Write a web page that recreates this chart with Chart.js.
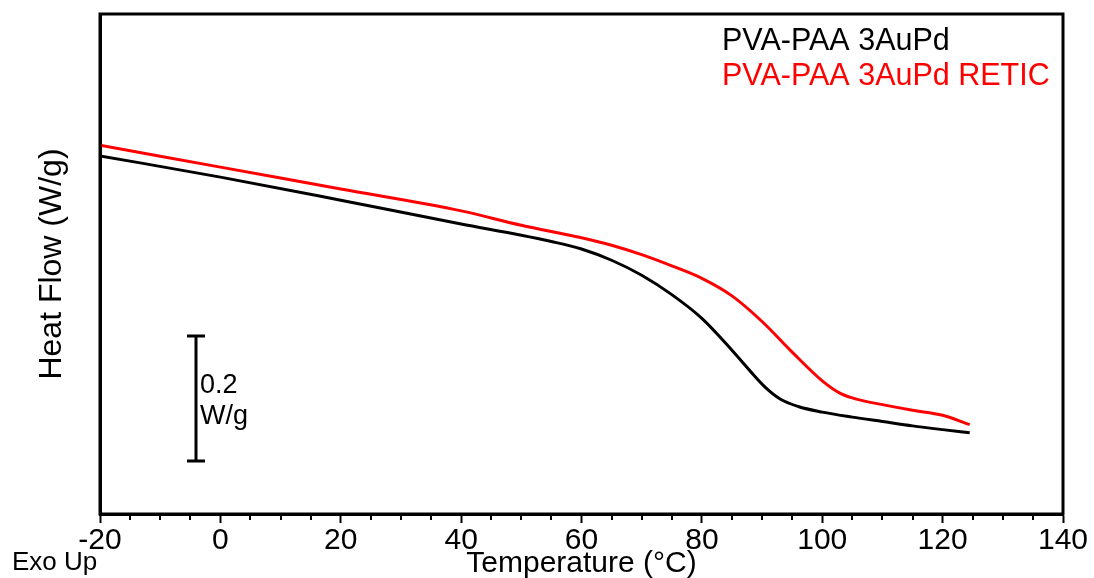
<!DOCTYPE html>
<html>
<head>
<meta charset="utf-8">
<script src="https://cdn.jsdelivr.net/npm/chart.js@4/dist/chart.umd.min.js"></script>
<style>
  body { margin: 0; background: #fff; }
</style>
</head>
<body>
<canvas id="dscChart" width="1094" height="578"></canvas>
<script>
// DSC heat flow traces, temperature in °C, heat flow in W/g (exo up, offset)
var tempPlain = [-20, 0, 20, 40, 50, 55, 60, 65, 70, 75, 80, 85, 88, 90.5, 93, 96, 100, 105, 110, 115, 120, 124.5];
var flowPlain = [0.573, 0.539, 0.502, 0.464, 0.446, 0.436, 0.424, 0.406, 0.382, 0.351, 0.313, 0.262, 0.229, 0.203, 0.184, 0.172, 0.163, 0.155, 0.148, 0.141, 0.135, 0.130];

var tempRetic = [-20, 0, 20, 40, 50, 60, 65, 70, 75, 80, 85, 90, 95, 100, 103, 106, 110, 115, 120, 124.5];
var flowRetic = [0.590, 0.555, 0.520, 0.485, 0.462, 0.442, 0.430, 0.415, 0.397, 0.377, 0.349, 0.308, 0.259, 0.213, 0.193, 0.183, 0.175, 0.166, 0.158, 0.143];

var seriesNames = ['PVA-PAA 3AuPd', 'PVA-PAA 3AuPd RETIC'];
var seriesColors = ['#000000', '#ff0000'];

var xTicks = [-20, 0, 20, 40, 60, 80, 100, 120, 140];
var minorStep = 5;

// scale bar: 0.2 W/g, drawn at T = -4.1
var barTemp = -4.1;
var barLow = 0.085;
var barHigh = 0.285;
var barLabel = ['0.2', 'W/g'];

function toPoints(xs, ys) {
  var pts = [];
  for (var i = 0; i < xs.length; i++) {
    pts.push({ x: xs[i], y: ys[i] });
  }
  return pts;
}

var fontFamily = '"Liberation Sans", Arial, sans-serif';

var decorations = {
  id: 'decorations',
  afterDraw: function (chart) {
    var ctx = chart.ctx;
    var area = chart.chartArea;
    var xs = chart.scales.x;
    var ys = chart.scales.y;
    ctx.save();

    // frame round the plot
    ctx.strokeStyle = '#000';
    ctx.lineWidth = 3;
    ctx.strokeRect(area.left, area.top, area.right - area.left, area.bottom - area.top);

    // minor ticks on the temperature axis
    ctx.lineWidth = 2;
    ctx.beginPath();
    for (var t = xTicks[0]; t <= xTicks[xTicks.length - 1]; t += minorStep) {
      if (t % 20 === 0) continue;
      var px = Math.round(xs.getPixelForValue(t));
      ctx.moveTo(px, area.bottom);
      ctx.lineTo(px, area.bottom + 6);
    }
    ctx.stroke();

    // scale bar
    var bx = Math.round(xs.getPixelForValue(barTemp));
    var y0 = ys.getPixelForValue(barLow);
    var y1 = ys.getPixelForValue(barHigh);
    ctx.lineWidth = 3;
    ctx.beginPath();
    ctx.moveTo(bx, y0);
    ctx.lineTo(bx, y1);
    ctx.moveTo(bx - 9, y0);
    ctx.lineTo(bx + 9, y0);
    ctx.moveTo(bx - 9, y1);
    ctx.lineTo(bx + 9, y1);
    ctx.stroke();

    ctx.fillStyle = '#000';
    ctx.font = '27px ' + fontFamily;
    ctx.textBaseline = 'alphabetic';
    ctx.textAlign = 'left';
    ctx.fillText(barLabel[0], bx + 4, 393);
    ctx.fillText(barLabel[1], bx + 4, 424);

    // legend text
    ctx.font = '30.5px ' + fontFamily;
    chart.data.datasets.forEach(function (ds, i) {
      ctx.fillStyle = ds.borderColor;
      ctx.fillText(ds.label, 722, 50 + i * 35);
    });

    ctx.fillStyle = '#000';
    ctx.font = '26px ' + fontFamily;
    ctx.fillText('Exo Up', 12, 570);

    ctx.restore();
  }
};

var ctx = document.getElementById('dscChart').getContext('2d');
var chart = new Chart(ctx, {
  type: 'line',
  data: {
    datasets: [{
      label: seriesNames[0],
      data: toPoints(tempPlain, flowPlain),
      borderColor: seriesColors[0],
      borderWidth: 3,
      pointRadius: 0,
      cubicInterpolationMode: 'monotone',
      fill: false
    }, {
      label: seriesNames[1],
      data: toPoints(tempRetic, flowRetic),
      borderColor: seriesColors[1],
      borderWidth: 3,
      pointRadius: 0,
      cubicInterpolationMode: 'monotone',
      fill: false
    }]
  },
  options: {
    responsive: false,
    animation: false,
    layout: { padding: { top: 14, right: 31, left: 0, bottom: 0 } },
    plugins: {
      legend: { display: false },
      tooltip: { enabled: false }
    },
    scales: {
      x: {
        type: 'linear',
        min: -20,
        max: 140,
        afterFit: function (scale) { scale.height = 64; },
        afterBuildTicks: function (scale) {
          scale.ticks = xTicks.map(function (v) { return { value: v }; });
        },
        border: { display: true, color: '#000', width: 3 },
        grid: {
          display: true,
          drawOnChartArea: false,
          drawTicks: true,
          tickLength: 9,
          tickWidth: 2,
          tickColor: '#000'
        },
        ticks: {
          color: '#000',
          padding: 0,
          maxRotation: 0,
          font: { family: fontFamily, size: 30 }
        },
        title: {
          display: true,
          text: 'Temperature (°C)',
          color: '#000',
          padding: { top: 0, bottom: -4 },
          font: { family: fontFamily, size: 30 }
        }
      },
      y: {
        type: 'linear',
        min: 0,
        max: 0.8,
        afterFit: function (scale) { scale.width = 100; },
        border: { display: true, color: '#000', width: 3 },
        grid: { display: false },
        ticks: { display: false },
        title: {
          display: true,
          text: 'Heat Flow (W/g)',
          color: '#000',
          padding: { top: 33, bottom: 0 },
          font: { family: fontFamily, size: 32 }
        }
      }
    }
  },
  plugins: [decorations]
});
</script>
</body>
</html>
